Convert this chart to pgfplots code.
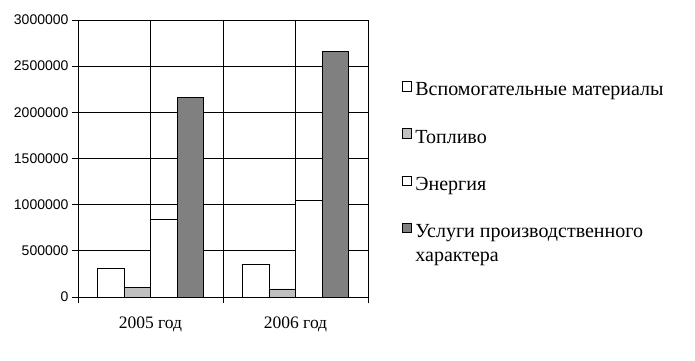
\documentclass[border=0pt]{standalone}
\usepackage{pgfplots}
\pgfplotsset{compat=1.18}
\usepackage{fontspec}
\setmainfont{Liberation Serif}
\newfontfamily\arialf{Liberation Sans}
\definecolor{lgray}{HTML}{C0C0C0}
\definecolor{dgray}{HTML}{808080}
\begin{document}
\begin{tikzpicture}[x=1pt,y=1pt]
\useasboundingbox (0,0) rectangle (695,360);
\begin{axis}[
  at={(78pt,63pt)}, anchor=south west,
  scale only axis, width=290pt, height=277pt,
  xmin=0, xmax=2, ymin=0, ymax=3000000,
  ytick={0,500000,1000000,1500000,2000000,2500000,3000000},
  ymajorgrids, xmajorgrids,
  grid style={black, line width=0.9pt},
  axis line style={black, line width=0.9pt},
  tick style={black, line width=0.9pt},
  tick align=outside, major tick length=6pt,
  ytick pos=left, xtick pos=bottom,
  xtick={0,1,2}, xticklabels={},
  extra x ticks={0.5,1.5}, extra x tick labels={2005 год,2006 год},
  extra x tick style={grid=major, major tick length=0pt,
    tick label style={font=\fontsize{17.5}{20}\selectfont, anchor=base, yshift=-31pt}},
  yticklabel style={font=\arialf\fontsize{14}{17}\selectfont},
  /pgf/number format/assume math mode=true,
  /pgf/number format/fixed, /pgf/number format/1000 sep={},
  scaled y ticks=false,
  ybar=0pt, bar width=0.1828,
  legend image code/.code={\draw[#1,line width=0.9pt] (0pt,1pt) rectangle (9.5pt,10.5pt);},
  legend style={at={(axis description cs:1.1172,0.7798)}, anchor=north west,
    draw=none, fill=none, inner sep=0pt, outer sep=0pt,
    row sep=28.3pt, column sep=3pt,
    font=\fontsize{20}{24}\selectfont,
    nodes={inner sep=0pt, text height=12pt, text depth=4pt, font=\fontsize{20}{24}\selectfont}},
  legend cell align=left,
]
\addplot[draw=black, fill=white, line width=0.9pt, bar shift=-0.2742] coordinates {(0.5,310000) (1.5,352000)};
\addlegendentry{Вспомогательные материалы}
\addplot[draw=black, fill=lgray, line width=0.9pt, bar shift=-0.0914] coordinates {(0.5,108000) (1.5,87000)};
\addlegendentry{Топливо}
\addplot[draw=black, fill=white, line width=0.9pt, bar shift=0.0914] coordinates {(0.5,841000) (1.5,1048000)};
\addlegendentry{Энергия}
\addplot[draw=black, fill=dgray, line width=0.9pt, bar shift=0.2742] coordinates {(0.5,2160000) (1.5,2663000)};
\addlegendentry{\begin{tabular}[t]{@{}l@{}}Услуги производственного\\характера\end{tabular}}
\end{axis}
\end{tikzpicture}
\end{document}
